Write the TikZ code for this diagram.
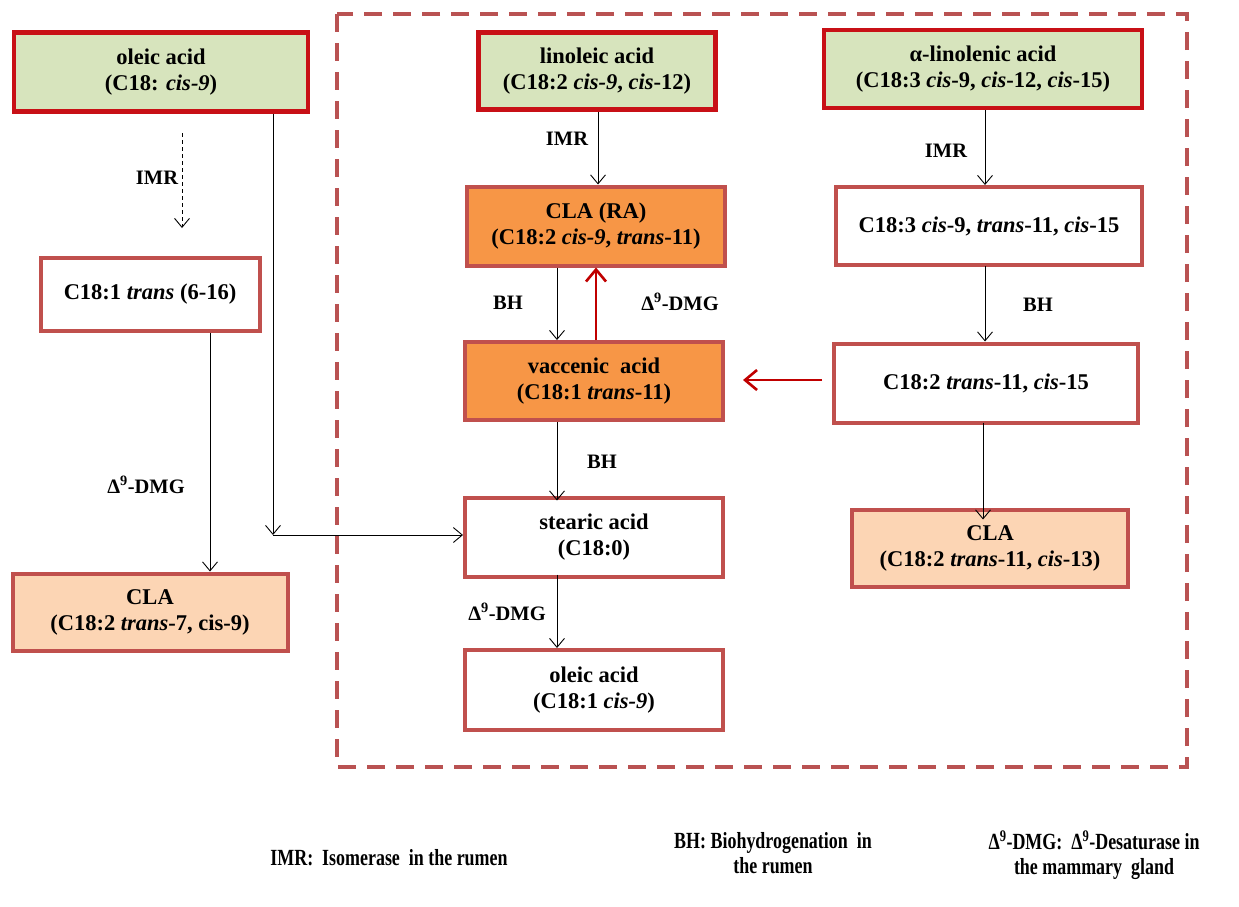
\documentclass[tikz,border=0pt]{standalone}
\usepackage{fontspec}
\usepackage{graphicx}
\setmainfont{Liberation Serif}
\usetikzlibrary{arrows.meta}
\definecolor{boxgreen}{RGB}{215,228,189}
\definecolor{topred}{RGB}{200,16,22}
\definecolor{brownred}{RGB}{192,80,77}
\definecolor{orangefill}{RGB}{247,150,70}
\definecolor{peachfill}{RGB}{252,213,180}
\definecolor{framecol}{RGB}{185,82,82}
\definecolor{arrowred}{RGB}{192,0,0}
\newcommand{\legtxt}[1]{\scalebox{0.97}[1.25]{\begin{tabular}{@{}c@{}}#1\end{tabular}}}
\tikzset{
  every node/.style={font=\fontsize{22.5}{26}\selectfont\bfseries, align=center, inner sep=0pt},
  srcbox/.style={draw=topred, line width=4.5pt, fill=boxgreen},
  midbox/.style={draw=brownred, line width=4pt, fill=white},
  rabox/.style={draw=brownred, line width=4pt, fill=orangefill},
  clabox/.style={draw=brownred, line width=4pt, fill=peachfill},
  arr/.style={-{Straight Barb[length=9pt,width=15pt]}, line width=0.9pt, black},
  redarr/.style={-{Straight Barb[length=12pt,width=20pt]}, line width=2.6pt, arrowred},
  lbl/.style={font=\fontsize{20.5}{24}\selectfont\bfseries},
  legend/.style={font=\fontsize{18.5}{20}\selectfont\bfseries}
}
\begin{document}
\begin{tikzpicture}[x=1pt,y=-1pt]
\useasboundingbox (0,0) rectangle (1239,906);
% frame
\draw[framecol, line width=3.5pt, dash pattern=on 18pt off 11pt] (337,14) rectangle (1187,767);
% nodes
\node[srcbox, minimum width=294pt, minimum height=79pt] (ole) at (161,72) {oleic acid\\(C18: \textit{cis-9})};
\node[srcbox, minimum width=237pt, minimum height=77pt] (lin) at (597,71) {linoleic acid\\(C18:2 \textit{cis-9}, \textit{cis}-12)};
\node[srcbox, minimum width=318pt, minimum height=78pt] (aln) at (983,69) {α-linolenic acid\\(C18:3 \textit{cis}-9, \textit{cis}-12, \textit{cis}-15)};
\node[midbox, minimum width=219pt, minimum height=73pt] (tr) at (150,294) {C18:1 \textit{trans} (6-16)};
\node[rabox, minimum width=258pt, minimum height=79pt] (ra) at (596,226) {CLA (RA)\\(C18:2 \textit{cis-9}, \textit{trans}-11)};
\node[midbox, minimum width=306pt, minimum height=78pt] (c183) at (989,226) {C18:3 \textit{cis}-9, \textit{trans}-11, \textit{cis}-15};
\node[rabox, minimum width=258pt, minimum height=78pt] (vac) at (594,381) {vaccenic\ \ acid\\(C18:1 \textit{trans}-11)};
\node[midbox, minimum width=304pt, minimum height=79pt] (c182) at (986,383) {C18:2 \textit{trans}-11, \textit{cis}-15};
\node[midbox, minimum width=258pt, minimum height=79pt] (ste) at (594,537) {stearic acid\\(C18:0)};
\node[clabox, minimum width=275pt, minimum height=77pt] (cla7) at (150,612) {CLA\\(C18:2 \textit{trans}-7, cis-9)};
\node[clabox, minimum width=276pt, minimum height=77pt] (cla13) at (990,548) {CLA\\(C18:2 \textit{trans}-11, \textit{cis}-13)};
\node[midbox, minimum width=258pt, minimum height=80pt] (ole2) at (594,690) {oleic acid\\(C18:1 \textit{cis-9})};
% coordinates
\coordinate (d1) at (182,133);
\coordinate (d2) at (182,228);
\coordinate (corner) at (273,535);
\coordinate (redstart) at (822,380);
% connectors
\draw[arr, dashed, dash pattern=on 4pt off 3pt] (d1) -- (d2);
\draw[arr] (ole.south -| corner) -- (corner);
\draw[arr] (corner) -- (corner -| ste.west);
\draw[arr] (tr.south -| 210,0) -- (cla7.north -| 210,0);
\draw[arr] (lin.south -| 598,0) -- (ra.north -| 598,0);
\draw[arr] (ra.south -| 557,0) -- (vac.north -| 557,0);
\draw[redarr] (vac.north -| 596,0) -- (ra.south -| 596,0);
\draw[arr] (aln.south -| 985,0) -- (c183.north -| 985,0);
\draw[arr] ([yshift=1pt]c183.south -| 985,0) -- (c182.north -| 985,0);
\draw[redarr] (redstart) -- ([xshift=18pt]redstart -| vac.east);
\draw[arr] ([yshift=2pt]c182.south -| 983,0) -- ([yshift=-12pt]cla13.north -| 983,0);
\draw[arr] (vac.south -| 557,0) -- ([yshift=-5pt]ste.north -| 557,0);
\draw[arr] ([yshift=4pt]ste.south -| 557,0) -- (ole2.north -| 557,0);
% labels
\node[lbl] (l1) at (157,178) {IMR};
\node[lbl] (l2) at (146,485) {Δ\textsuperscript{9}-DMG};
\node[lbl] (l3) at (567,139) {IMR};
\node[lbl] (l4) at (508,303) {BH};
\node[lbl] (l5) at (680,302) {Δ\textsuperscript{9}-DMG};
\node[lbl] (l6) at (946,151) {IMR};
\node[lbl] (l7) at (1038,305) {BH};
\node[lbl] (l8) at (602,462) {BH};
\node[lbl] (l9) at (507,612) {Δ\textsuperscript{9}-DMG};
% legend
\node[legend] (g1) at (389,860) {\legtxt{IMR:\ \ Isomerase\ \ in the rumen}};
\node[legend] (g2) at (773,856) {\legtxt{BH: Biohydrogenation\ \ in\\the rumen}};
\node[legend] (g3) at (1094,856) {\legtxt{Δ\textsuperscript{9}-DMG:\ \ Δ\textsuperscript{9}-Desaturase in\\the mammary\ \ gland}};
\end{tikzpicture}
\end{document}
